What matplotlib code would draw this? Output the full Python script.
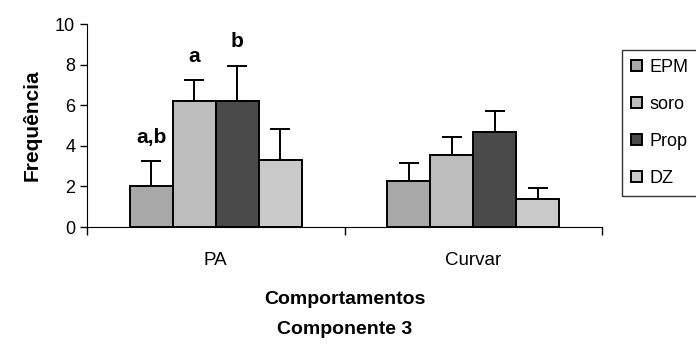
import numpy as np
import matplotlib
matplotlib.use("Agg")
from matplotlib import pyplot as plt

plt.rcParams['font.family'] = ['Liberation Sans', 'DejaVu Sans']

categories = ["PA", "Curvar"]
groups = ["EPM", "soro", "Prop", "DZ"]
means = {
    "EPM":  [2.0, 2.25],
    "soro": [6.2, 3.55],
    "Prop": [6.2, 4.7],
    "DZ":   [3.3, 1.4],
}
errors = {
    "EPM":  [1.25, 0.9],
    "soro": [1.05, 0.9],
    "Prop": [1.75, 1.0],
    "DZ":   [1.55, 0.5],
}
letters = {
    "EPM":  ["a,b", ""],
    "soro": ["a", ""],
    "Prop": ["b", ""],
    "DZ":   ["", ""],
}
colors = {"EPM": "#a8a8a8", "soro": "#bdbdbd", "Prop": "#4a4a4a", "DZ": "#c9c9c9"}

fig = plt.figure(figsize=(6.96, 3.45), dpi=100)
ax = fig.add_axes([0.125, 0.342, 0.74, 0.588])

x = np.arange(len(categories))
w = 1 / 6
for i, g in enumerate(groups):
    pos = x + (i - 1.5) * w
    ax.bar(pos, means[g], w, color=colors[g], edgecolor="black", linewidth=1.4,
           label=g, zorder=2)
    ax.errorbar(pos, means[g], yerr=[np.zeros(len(x)), errors[g]], fmt="none",
                ecolor="black", elinewidth=1.4, capsize=7, capthick=1.4, zorder=1)
    for p, m, e, t in zip(pos, means[g], errors[g], letters[g]):
        if t:
            ax.text(p, m + e + 0.9, t, ha="center", va="baseline",
                    fontsize=15, fontweight="bold")

ax.set_xlim(-0.5, 1.5)
ax.set_ylim(0, 10)
ax.set_yticks([0, 2, 4, 6, 8, 10])
ax.tick_params(axis="y", labelsize=13, length=5, width=1)

# category boundary ticks, labels in the middle
ax.set_xticks([-0.5, 0.5, 1.5])
ax.set_xticklabels([])
ax.tick_params(axis="x", which="major", length=6, width=1)
ax.set_xticks(x, minor=True)
ax.set_xticklabels(categories, minor=True, fontsize=13.5)
ax.tick_params(axis="x", which="minor", length=0, pad=18)

for s in ["top", "right"]:
    ax.spines[s].set_visible(False)

ax.set_ylabel("Frequência", fontsize=15, fontweight="bold", labelpad=10)

# two-line x title
cx = 0.125 + 0.74 / 2
fig.text(cx, 1 - 300 / 345, "Comportamentos", ha="center", va="center",
         fontsize=14, fontweight="bold")
fig.text(cx, 1 - 330 / 345, "Componente 3", ha="center", va="center",
         fontsize=14, fontweight="bold")

leg = fig.legend(loc="upper left", bbox_to_anchor=(0.894, 0.855), fontsize=13,
                 frameon=True, fancybox=False, edgecolor="black",
                 handlelength=0.6, handleheight=0.6, handletextpad=0.4,
                 labelspacing=1.1, borderpad=0.5, borderaxespad=0)
leg.get_frame().set_linewidth(1)

fig.savefig("out.png", dpi=100)
